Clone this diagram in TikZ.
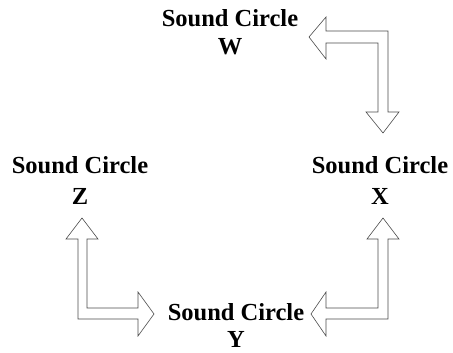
\documentclass[tikz,border=0pt]{standalone}
\usepackage{fontspec}
\setmainfont{Liberation Serif}
\tikzset{
  lbl/.style={anchor=base, inner sep=0pt, font=\fontsize{24.5}{28}\selectfont\bfseries},
  blockarrow/.style={draw=black!70, line width=0.6pt, fill=white, line join=miter}
}
\begin{document}
\begin{tikzpicture}[x=1pt,y=-1pt]
\useasboundingbox (0,0) rectangle (453,353);
% labels
\node[lbl] (w1) at (230,27) {Sound Circle};
\node[lbl] (w2) at (230,55) {W};
\node[lbl] (x1) at (380,173) {Sound Circle};
\node[lbl] (x2) at (380,204) {X};
\node[lbl] (z1) at (80,173) {Sound Circle};
\node[lbl] (z2) at (80,204) {Z};
\node[lbl] (y1) at (236,320) {Sound Circle};
\node[lbl] (y2) at (236,347) {Y};
% W <- -> X
\draw[blockarrow] (309,37) -- (326,17) -- (326,31) -- (388,31) -- (388,112) -- (399,112)
  -- (383,133) -- (366,112) -- (378,112) -- (378,43) -- (326,43) -- (326,59) -- cycle;
% Z <-> Y
\draw[blockarrow] (82,218) -- (98,239) -- (87,239) -- (87,308) -- (138,308) -- (138,292)
  -- (154,314) -- (138,336) -- (138,319) -- (78,319) -- (78,239) -- (66,239) -- cycle;
% X <-> Y
\draw[blockarrow] (383,218) -- (399,239) -- (388,239) -- (388,319) -- (326,319) -- (326,336)
  -- (311,314) -- (326,292) -- (326,308) -- (378,308) -- (378,239) -- (367,239) -- cycle;
\end{tikzpicture}
\end{document}
